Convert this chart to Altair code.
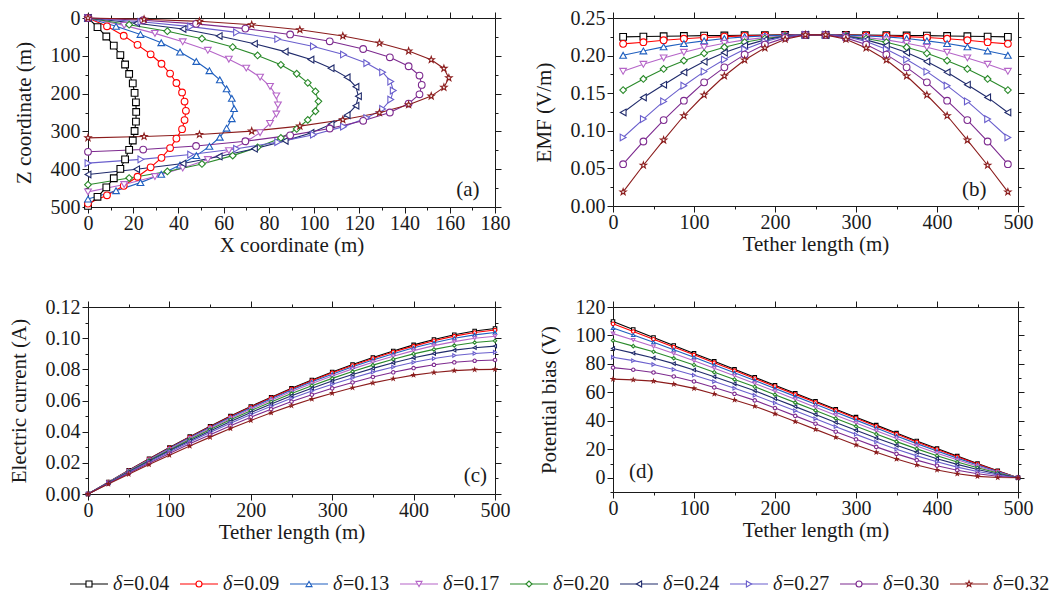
import altair as alt
import pandas as pd

FONT = "Liberation Serif"
INK = "#1a1a1a"

DELTAS = ["0.04", "0.09", "0.13", "0.17", "0.20", "0.24", "0.27", "0.30", "0.32"]
COLORS = ["#000000", "#ff0000", "#1f5fbf", "#b565c8", "#2a8a2a", "#1f2a6b", "#6a5fcd", "#7d2a8f", "#8b1c1c"]
STAR = ("M0,-1L0.235,-0.324L0.951,-0.309L0.38,0.124L0.588,0.809L0,0.4"
        "L-0.588,0.809L-0.38,0.124L-0.951,-0.309L-0.235,-0.324Z")
SHAPES = ["square", "circle", "triangle-up", "triangle-down", "diamond",
          "triangle-left", "triangle-right", "circle", STAR]

# ---------------- (a) tether shape: X and Z coordinates (m) ----------------
AX_04 = [0, 4.2, 8.1, 11.4, 14.3, 16.4, 18.2, 19.8, 20.6, 21.2, 21.3, 21.2, 20.6, 19.8, 18.2, 16.4, 14.3, 11.4, 8.1, 4.2, 0]
AZ_04 = [0, 24, 49, 73, 98, 123, 148, 173, 198, 223, 248.5, 274, 299, 324, 349, 374, 399, 424, 448, 473, 497]
AX_09 = [0, 8.4, 15.8, 21.9, 27.7, 32.5, 36.3, 39.1, 41.6, 42.7, 43.3, 42.7, 41.6, 39.1, 36.3, 32.5, 27.7, 21.9, 15.8, 8.4, 0]
AZ_09 = [0, 22, 47, 71, 96, 121, 147, 172, 197, 221, 245.5, 270, 294, 319, 344, 370, 395, 420, 444, 469, 491]
AX_13 = [0, 12.4, 23.2, 32.4, 40.7, 47.9, 53.7, 58.3, 61.3, 63.6, 64.6, 63.6, 61.3, 58.3, 53.7, 47.9, 40.7, 32.4, 23.2, 12.4, 0]
AZ_13 = [0, 22, 43.5, 65.5, 90, 115, 139.5, 163.5, 187.5, 212.5, 239.5, 266.5, 291.5, 315.5, 339.5, 364, 389, 413.5, 435.5, 457, 479]
AX_17 = [0, 16, 29.6, 41.9, 53, 62.3, 70, 76.1, 80.5, 83.3, 84, 83.3, 80.5, 76.1, 70, 62.3, 53, 41.9, 29.6, 16, 0]
AZ_17 = [0, 19.5, 40.7, 63, 85.5, 109, 132.5, 156.5, 181, 206, 230, 254, 279, 303.5, 327.5, 351, 374.5, 397, 419.3, 440.5, 460]
AX_20 = [0, 18.2, 35.1, 50.4, 64, 75, 85.3, 92.3, 97.2, 100.6, 101.9, 100.6, 97.2, 92.3, 85.3, 75, 64, 50.4, 35.1, 18.2, 0]
AZ_20 = [0, 17.7, 35, 54.8, 76.9, 99, 123.7, 147.5, 171.4, 194.3, 220.5, 246.7, 269.6, 293.5, 317.3, 342, 364.1, 386.2, 406, 423.3, 441]
AX_24 = [0, 21.5, 42, 58, 73.6, 87.2, 98.6, 107.5, 114.6, 118.5, 119.6, 118.5, 114.6, 107.5, 98.6, 87.2, 73.6, 58, 42, 21.5, 0]
AZ_24 = [0, 14, 29, 47.5, 68, 89, 110, 133, 157, 182, 207, 232, 257, 281, 304, 325, 346, 366.5, 385, 400, 414]
AX_27 = [0, 23.4, 45.4, 65.7, 83.9, 99.7, 113, 123.3, 130.3, 133.9, 135, 133.9, 130.3, 123.3, 113, 99.7, 83.9, 65.7, 45.4, 23.4, 0]
AZ_27 = [0, 10, 22.7, 38, 55.6, 75.2, 96.6, 119.5, 143.5, 168.2, 192, 215.8, 240.5, 264.5, 287.4, 308.8, 328.4, 346, 361.3, 374, 384]
AX_30 = [0, 24.4, 47.8, 69.6, 89.4, 106.9, 121.7, 133.5, 141.8, 146.6, 147.6, 146.6, 141.8, 133.5, 121.7, 106.9, 89.4, 69.6, 47.8, 24.4, 0]
AZ_30 = [0, 6, 15.5, 28, 43.5, 61.6, 82, 104, 127.6, 152.2, 177, 201.8, 226.4, 250, 272, 292.4, 310.5, 326, 338.5, 348, 354]
AX_32 = [0, 24.8, 49.3, 72.4, 93.7, 112.7, 128.9, 141.8, 151.8, 157.4, 159.6, 157.4, 151.8, 141.8, 128.9, 112.7, 93.7, 72.4, 49.3, 24.8, 0]
AZ_32 = [0, 3.5, 8.8, 17.7, 30.9, 47.7, 66.3, 87.5, 110.4, 133.4, 158.5, 183.6, 206.6, 229.5, 250.7, 269.3, 286.1, 299.3, 308.2, 313.5, 317]

# ---------------- (b) EMF (V/m) along the tether ----------------
TL_MID = [12.5, 37.5, 62.5, 87.5, 112.5, 137.5, 162.5, 187.5, 212.5, 237.5,
          262.5, 287.5, 312.5, 337.5, 362.5, 387.5, 412.5, 437.5, 462.5, 487.5]
B_04 = [0.2249, 0.2253, 0.2257, 0.2261, 0.2265, 0.2268, 0.2271, 0.2273, 0.2275, 0.2276,
        0.2276, 0.2275, 0.2273, 0.2271, 0.2268, 0.2265, 0.2261, 0.2257, 0.2253, 0.2249]
B_09 = [0.2156, 0.2178, 0.2204, 0.2225, 0.2240, 0.2252, 0.2262, 0.2268, 0.2273, 0.2276,
        0.2276, 0.2273, 0.2268, 0.2262, 0.2252, 0.2240, 0.2225, 0.2204, 0.2178, 0.2156]
B_13 = [0.2004, 0.2062, 0.2116, 0.2160, 0.2196, 0.2227, 0.2249, 0.2262, 0.2271, 0.2276,
        0.2276, 0.2271, 0.2262, 0.2249, 0.2227, 0.2196, 0.2160, 0.2116, 0.2062, 0.2004]
B_17 = [0.1791, 0.1884, 0.1969, 0.2044, 0.2111, 0.2164, 0.2209, 0.2240, 0.2262, 0.2276,
        0.2276, 0.2262, 0.2240, 0.2209, 0.2164, 0.2111, 0.2044, 0.1969, 0.1884, 0.1791]
B_20 = [0.1542, 0.1689, 0.1822, 0.1933, 0.2031, 0.2111, 0.2178, 0.2227, 0.2258, 0.2276,
        0.2276, 0.2258, 0.2227, 0.2178, 0.2111, 0.2031, 0.1933, 0.1822, 0.1689, 0.1542]
B_24 = [0.1244, 0.1444, 0.1613, 0.1778, 0.1920, 0.2040, 0.2133, 0.2209, 0.2258, 0.2276,
        0.2276, 0.2258, 0.2209, 0.2133, 0.2040, 0.1920, 0.1778, 0.1613, 0.1444, 0.1244]
B_27 = [0.0911, 0.1156, 0.1391, 0.1600, 0.1787, 0.1947, 0.2084, 0.2187, 0.2253, 0.2276,
        0.2276, 0.2253, 0.2187, 0.2084, 0.1947, 0.1787, 0.1600, 0.1391, 0.1156, 0.0911]
B_30 = [0.0556, 0.0858, 0.1142, 0.1400, 0.1644, 0.1844, 0.2013, 0.2147, 0.2236, 0.2276,
        0.2276, 0.2236, 0.2147, 0.2013, 0.1844, 0.1644, 0.1400, 0.1142, 0.0858, 0.0556]
B_32 = [0.0187, 0.0542, 0.0876, 0.1200, 0.1476, 0.1729, 0.1942, 0.2102, 0.2218, 0.2276,
        0.2276, 0.2218, 0.2102, 0.1942, 0.1729, 0.1476, 0.1200, 0.0876, 0.0542, 0.0187]

# ---------------- (c) electric current (A) and (d) potential bias (V) ----------------
TL = [0, 25, 50, 75, 100, 125, 150, 175, 200, 225, 250, 275, 300, 325, 350, 375, 400, 425, 450, 475, 500]
C_04 = [0, .0076, .0152, .0226, .0298, .0368, .0435, .0500, .0562, .0621, .0678, .0732, .0783, .0831, .0876, .0918, .0957, .0992, .1022, .1046, .1062]
C_09 = [0, .0076, .0151, .0225, .0296, .0366, .0432, .0497, .0558, .0617, .0674, .0727, .0778, .0825, .0870, .0911, .0949, .0984, .1013, .1036, .1052]
C_13 = [0, .0075, .0150, .0222, .0293, .0362, .0428, .0492, .0553, .0611, .0667, .0720, .0769, .0816, .0860, .0900, .0938, .0971, .0999, .1021, .1036]
C_17 = [0, .0074, .0147, .0219, .0289, .0357, .0422, .0485, .0545, .0602, .0657, .0709, .0757, .0803, .0845, .0884, .0920, .0952, .0978, .0999, .1012]
C_20 = [0, .0072, .0145, .0215, .0283, .0350, .0414, .0476, .0535, .0591, .0645, .0695, .0742, .0786, .0827, .0865, .0899, .0928, .0953, .0972, .0983]
C_24 = [0, .0071, .0141, .0210, .0277, .0342, .0405, .0466, .0523, .0578, .0630, .0679, .0725, .0767, .0806, .0842, .0874, .0901, .0923, .0939, .0949]
C_27 = [0, .0069, .0138, .0205, .0270, .0333, .0394, .0454, .0510, .0563, .0614, .0661, .0704, .0745, .0782, .0815, .0845, .0869, .0889, .0902, .0910]
C_30 = [0, .0067, .0133, .0198, .0260, .0322, .0381, .0438, .0493, .0544, .0593, .0637, .0678, .0716, .0751, .0781, .0808, .0829, .0845, .0855, .0860]
C_32 = [0, .0064, .0127, .0189, .0249, .0308, .0365, .0420, .0472, .0521, .0567, .0609, .0647, .0682, .0713, .0740, .0763, .0780, .0792, .0798, .0800]

D_04 = [109.8, 104.2, 98.6, 93.0, 87.4, 81.8, 76.2, 70.6, 65.0, 59.4, 53.8, 48.2, 42.6, 37.0, 31.4, 25.9, 20.5, 15.2, 10.0, 4.9, 0]
D_09 = [108.2, 102.8, 97.4, 91.9, 86.4, 80.9, 75.3, 69.8, 64.2, 58.6, 53.0, 47.4, 41.8, 36.2, 30.7, 25.2, 19.9, 14.7, 9.6, 4.7, 0]
D_13 = [105.3, 100.3, 95.2, 90.0, 84.7, 79.3, 73.8, 68.4, 62.8, 57.2, 51.6, 46.0, 40.5, 34.9, 29.4, 24.0, 18.8, 13.8, 9.0, 4.4, 0]
D_17 = [101.3, 96.8, 92.2, 87.3, 82.2, 77.0, 71.7, 66.3, 60.8, 55.2, 49.6, 44.0, 38.5, 33.0, 27.6, 22.4, 17.3, 12.6, 8.1, 3.9, 0]
D_20 = [96.4, 92.5, 88.5, 84.0, 79.3, 74.2, 69.1, 63.9, 58.4, 52.8, 47.3, 41.7, 36.2, 30.7, 25.4, 20.3, 15.5, 11.1, 7.0, 3.3, 0]
D_24 = [90.8, 87.6, 84.2, 80.2, 75.8, 71.0, 66.1, 61.1, 55.6, 50.0, 44.5, 38.9, 33.4, 28.0, 22.8, 18.0, 13.4, 9.4, 5.8, 2.7, 0]
D_27 = [84.7, 82.3, 79.6, 76.1, 72.1, 67.6, 62.9, 58.0, 52.6, 47.1, 41.5, 35.9, 30.5, 25.2, 20.1, 15.4, 11.2, 7.5, 4.4, 2.0, 0]
D_30 = [77.4, 75.9, 74.0, 71.2, 67.7, 63.5, 59.0, 54.4, 49.0, 43.5, 38.0, 32.4, 27.0, 21.7, 16.8, 12.4, 8.5, 5.3, 2.8, 1.1, 0]
D_32 = [69.3, 68.8, 67.9, 65.8, 62.8, 58.9, 54.7, 50.3, 45.0, 39.5, 34.0, 28.4, 23.1, 17.9, 13.2, 9.0, 5.5, 2.8, 1.0, 0.2, 0]


def long_frame(xlists, ylists):
    rows = []
    for k, (xs, ys) in enumerate(zip(xlists, ylists)):
        for i, (x, y) in enumerate(zip(xs, ys)):
            rows.append({"delta": DELTAS[k], "k": k, "i": i, "x": x, "y": y})
    return pd.DataFrame(rows)


DF_A = long_frame([AX_04, AX_09, AX_13, AX_17, AX_20, AX_24, AX_27, AX_30, AX_32],
                  [AZ_04, AZ_09, AZ_13, AZ_17, AZ_20, AZ_24, AZ_27, AZ_30, AZ_32])
DF_B = long_frame([TL_MID] * 9, [B_04, B_09, B_13, B_17, B_20, B_24, B_27, B_30, B_32])
DF_C = long_frame([TL] * 9, [C_04, C_09, C_13, C_17, C_20, C_24, C_27, C_30, C_32])
DF_D = long_frame([TL] * 9, [D_04, D_09, D_13, D_17, D_20, D_24, D_27, D_30, D_32])


def tick_values(lo, hi, step):
    n = int(round((hi - lo) / step))
    return [round(lo + j * step, 6) for j in range(n + 1)]


def make_axis(orient, lo, hi, minor, major, fmt, title=None, labels=True):
    test = f"abs(datum.value / {major} - round(datum.value / {major})) > 0.001"
    vertical = orient in ("left", "right")
    kw = dict(orient=orient, values=tick_values(lo, hi, minor), grid=False,
              domainColor=INK, domainWidth=1, tickColor=INK, tickWidth=1,
              tickSize={"condition": {"test": test, "value": 3}, "value": 6},
              labelFont=FONT, labelFontSize=20, labelColor=INK,
              labelPadding=(2 if vertical else 0),
              labelFlush=False, labelOverlap=False,
              titleFont=FONT, titleFontSize=21, titleFontWeight="normal", titleColor=INK,
              titlePadding=(16 if vertical else 1),
              title=title)
    if labels:
        kw["labelExpr"] = (f"abs(datum.value / {major} - round(datum.value / {major})) > 0.001"
                           f" ? '' : format(datum.value, '{fmt}')")
    else:
        kw["labels"] = False
    return alt.Axis(**kw)


COLOR_SCALE = alt.Scale(domain=DELTAS, range=COLORS)
SHAPE_SCALE = alt.Scale(domain=DELTAS, range=SHAPES)


def panel(df, xspec, yspec, xtitle, ytitle, w, h, msize, label, lx, ly, yrev=False):
    xlo, xhi, xmin, xmaj, xfmt = xspec
    ylo, yhi, ymin, ymaj, yfmt = yspec
    xs = alt.Scale(domain=[xlo, xhi], nice=False, zero=False)
    ys = alt.Scale(domain=[ylo, yhi], nice=False, zero=False, reverse=yrev)
    X = alt.X("x:Q", scale=xs, axis=make_axis("bottom", xlo, xhi, xmin, xmaj, xfmt, xtitle))
    Y = alt.Y("y:Q", scale=ys, axis=make_axis("left", ylo, yhi, ymin, ymaj, yfmt, ytitle))
    base = alt.Chart(df)
    lines = base.mark_line(strokeWidth=1.1).encode(
        x=X, y=Y, color=alt.Color("delta:N", scale=COLOR_SCALE, legend=None),
        detail="delta:N", order="i:Q")
    pts = base.mark_point(filled=True, fill="white", strokeWidth=1.1, size=msize, opacity=1).encode(
        x=X, y=Y,
        stroke=alt.Stroke("delta:N", scale=COLOR_SCALE, legend=None),
        shape=alt.Shape("delta:N", scale=SHAPE_SCALE, legend=None),
        order="k:Q")
    lab = alt.Chart(pd.DataFrame({"x": [lx], "y": [ly], "t": [label]})).mark_text(
        font=FONT, fontSize=21, color=INK).encode(x=X, y=Y, text="t:N")
    mirror = base.mark_point(opacity=0).encode(
        x=alt.X("x:Q", scale=xs, axis=make_axis("top", xlo, xhi, xmin, xmaj, xfmt, None, False)),
        y=alt.Y("y:Q", scale=ys, axis=make_axis("right", ylo, yhi, ymin, ymaj, yfmt, None, False)))
    return alt.layer(alt.layer(lines, pts, lab), mirror).resolve_scale(
        x="independent", y="independent").properties(width=w, height=h)


pa = panel(DF_A, (0, 180, 10, 20, "d"), (0, 500, 50, 100, "d"),
           "X coordinate (m)", "Z coordinate (m)", 407, 189, 45, "(a)", 168, 455, yrev=True)
pb = panel(DF_B, (0, 500, 50, 100, "d"), (0, 0.25, 0.025, 0.05, ".2f"),
           "Tether length (m)", "EMF (V/m)", 405, 188, 45, "(b)", 446, 0.021)
pc = panel(DF_C, (0, 500, 50, 100, "d"), (0, 0.12, 0.01, 0.02, ".2f"),
           "Tether length (m)", "Electric current (A)", 407, 187, 12, "(c)", 476, 0.0117)
pd_ = panel(DF_D, (0, 500, 50, 100, "d"), (-10, 120, 10, 20, "d"),
            "Tether length (m)", "Potential bias (V)", 405, 185, 12, "(d)", 35, 4)

grid = alt.concat(pa, pb, pc, pd_, columns=2, spacing={"row": 42, "column": 23})

# ---------------- legend row ----------------
LEG = pd.DataFrame({"k": list(range(9)), "delta": DELTAS, "lab": ["=" + d for d in DELTAS]})
LX = alt.X("k:Q", scale=alt.Scale(domain=[-0.009, 8.718], nice=False, zero=False), axis=None)
leg_base = alt.Chart(LEG)
leg_rule = leg_base.mark_rule(strokeWidth=1.2, xOffset=-19, x2Offset=19).encode(
    x=LX, x2="k:Q", y=alt.value(10),
    color=alt.Color("delta:N", scale=COLOR_SCALE, legend=None))
leg_pts = leg_base.mark_point(filled=True, fill="white", strokeWidth=1.1, size=36, opacity=1).encode(
    x=LX, y=alt.value(10),
    stroke=alt.Stroke("delta:N", scale=COLOR_SCALE, legend=None),
    shape=alt.Shape("delta:N", scale=SHAPE_SCALE, legend=None))
leg_delta = leg_base.mark_text(font=FONT, fontSize=20, fontStyle="italic", align="left",
                               dx=24, color=INK).encode(x=LX, y=alt.value(10), text=alt.value("δ"))
leg_txt = leg_base.mark_text(font=FONT, fontSize=20, align="left", dx=34, color=INK).encode(
    x=LX, y=alt.value(10), text="lab:N")
legend = alt.layer(leg_rule, leg_pts, leg_delta, leg_txt).properties(width=960, height=20)

chart = alt.vconcat(grid, legend, spacing=32).properties(
    padding={"left": 0, "top": 0, "right": 0, "bottom": 0}).configure_view(stroke=None)

chart.save("out.html", embed_options={"renderer": "svg", "actions": False})
